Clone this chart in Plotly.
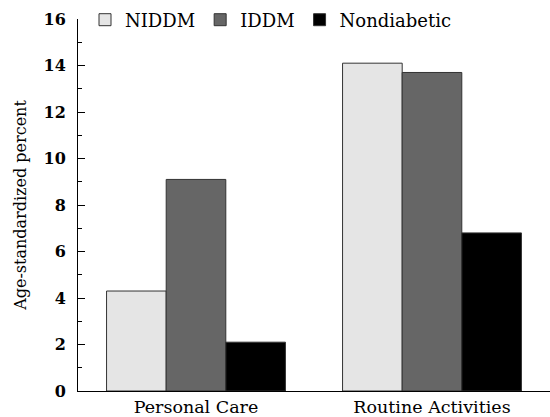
import plotly.graph_objects as go

categories = ["Personal Care", "Routine Activities"]
series_names = ["NIDDM", "IDDM", "Nondiabetic"]
niddm = [4.3, 14.1]
iddm = [9.1, 13.7]
nondiabetic = [2.1, 6.8]
colors = ["#e5e5e5", "#666666", "#000000"]
y_ticks = [0, 2, 4, 6, 8, 10, 12, 14, 16]

fig = go.Figure()
for name, vals, col in zip(series_names, [niddm, iddm, nondiabetic], colors):
    fig.add_trace(go.Bar(
        x=categories, y=vals, name=name,
        marker=dict(color=col, line=dict(color="#333333", width=1)),
    ))

serif = "DejaVu Serif"
fig.update_layout(
    width=550, height=417,
    margin=dict(l=78, r=0, t=19, b=26, autoexpand=False),
    paper_bgcolor="white", plot_bgcolor="white",
    barmode="group", bargap=0.242, bargroupgap=0,
    font=dict(family=serif, color="black"),
    showlegend=True,
    legend=dict(
        orientation="h", xref="container", yref="container",
        x=85 / 550, y=1 - 20 / 417, xanchor="left", yanchor="middle",
        font=dict(family=serif, size=18), bgcolor="rgba(0,0,0,0)",
        itemwidth=30, tracegroupgap=0, traceorder="normal",
    ),
)
fig.update_xaxes(
    range=[-0.5, 1.5], showline=True, linecolor="black", linewidth=1,
    ticks="", showgrid=False, zeroline=False, automargin=False,
    tickfont=dict(family=serif, size=17.5),
)
fig.update_yaxes(
    range=[0, 16], tickvals=y_ticks, ticktext=["<b>%d</b>" % v for v in y_ticks],
    showline=True, linecolor="black", linewidth=1,
    ticks="inside", ticklen=7, tickcolor="black", ticklabelstandoff=8,
    minor=dict(dtick=1, ticks="inside", ticklen=4, tickcolor="black"),
    showgrid=False, zeroline=False, automargin=False,
    tickfont=dict(family=serif, size=16),
    title=dict(text="Age-standardized percent", font=dict(family=serif, size=16), standoff=12),
)

fig.write_html("out.html")
